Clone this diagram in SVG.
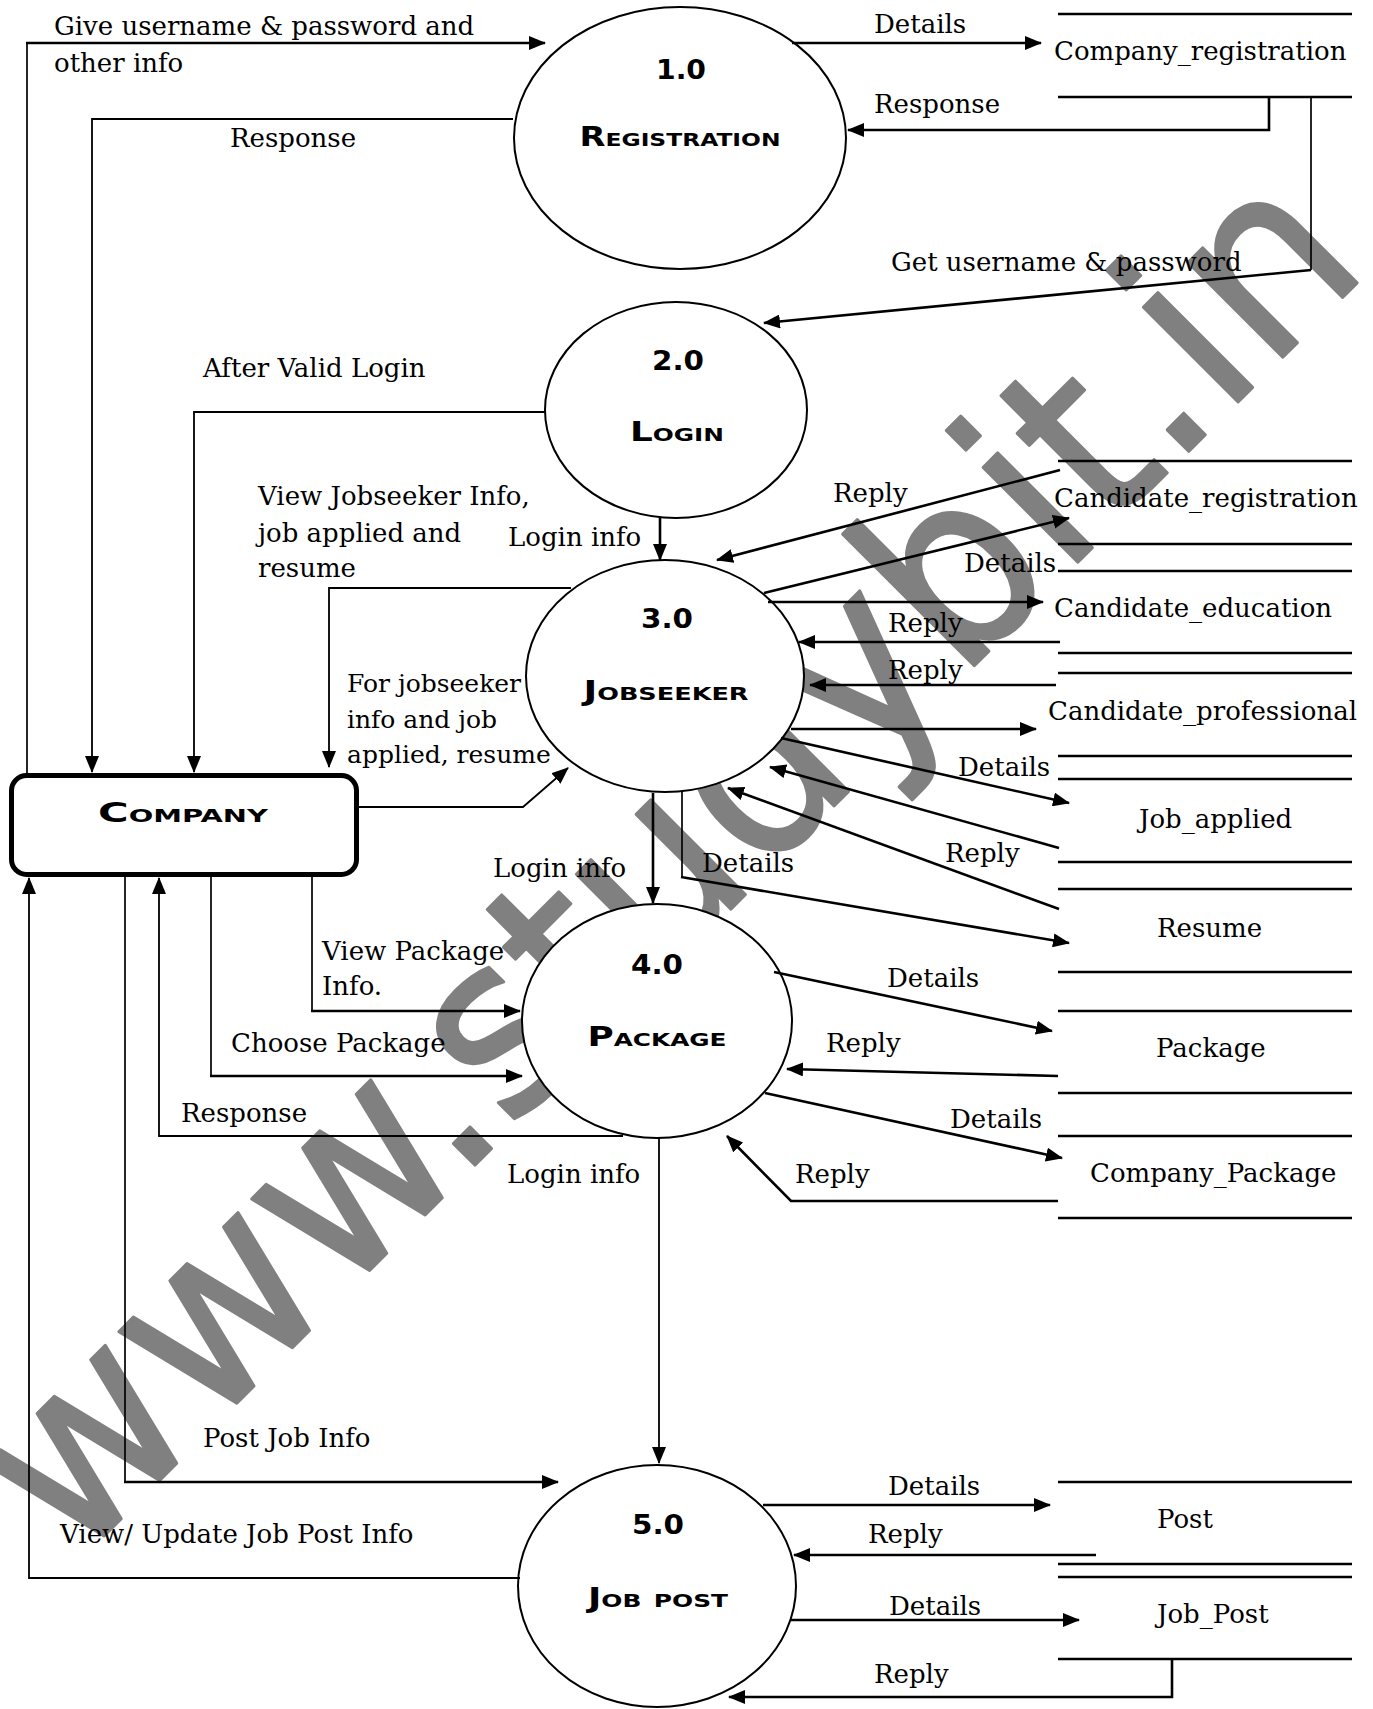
<svg xmlns="http://www.w3.org/2000/svg" width="1373" height="1709" viewBox="0 0 1373 1709">
<style>
.wm{font-family:"DejaVu Sans",sans-serif;font-size:245px;fill:#808080;stroke:#808080;stroke-width:3;stroke-linejoin:round}
.lbl{font-family:"DejaVu Serif",serif;font-size:26px;fill:#000}
.sm{font-size:25px}
.nt{font-family:"DejaVu Sans",sans-serif;font-weight:bold;font-variant:small-caps;font-size:26px;fill:#000;text-anchor:middle}
.proc{fill:#fff;stroke:#000;stroke-width:2}
.ent{fill:#fff;stroke:#000;stroke-width:5}
.c{fill:none;stroke:#000;stroke-width:1.7}
.ca{fill:none;stroke:#000;stroke-width:2.6;marker-end:url(#ah)}
.cat{fill:none;stroke:#000;stroke-width:1.8;marker-end:url(#ah)}
.st{stroke:#000;stroke-width:2.5}
</style>
<defs>
<marker id="ah" markerUnits="userSpaceOnUse" markerWidth="18" markerHeight="14" refX="16" refY="7" orient="auto"><path d="M0,0 L17,7 L0,14 z" fill="#000"/></marker>
</defs>
<rect width="1373" height="1709" fill="#fff"/>
<text class="wm" transform="translate(74,1566) rotate(-45)" textLength="1834" lengthAdjust="spacingAndGlyphs">www.studybit.in</text>

<g id="company"><rect class="ent" x="11.5" y="775.5" width="345" height="99" rx="15"/><text class="nt" x="183" y="822" textLength="170" lengthAdjust="spacingAndGlyphs">Company</text></g>
<g id="p1"><ellipse class="proc" cx="680" cy="138" rx="166" ry="131"/><text class="nt" x="681" y="79" textLength="50" lengthAdjust="spacingAndGlyphs">1.0</text><text class="nt" x="680" y="146" textLength="201" lengthAdjust="spacingAndGlyphs">Registration</text></g>
<g id="p2"><ellipse class="proc" cx="676" cy="410" rx="131" ry="108"/><text class="nt" x="678" y="370" textLength="52" lengthAdjust="spacingAndGlyphs">2.0</text><text class="nt" x="677" y="441" textLength="94" lengthAdjust="spacingAndGlyphs">Login</text></g>
<g id="p3"><ellipse class="proc" cx="665" cy="676" rx="139" ry="116"/><text class="nt" x="667" y="628" textLength="52" lengthAdjust="spacingAndGlyphs">3.0</text><text class="nt" x="666" y="700" textLength="165" lengthAdjust="spacingAndGlyphs">Jobseeker</text></g>
<g id="p4"><ellipse class="proc" cx="657" cy="1021" rx="135" ry="117"/><text class="nt" x="657" y="974" textLength="52" lengthAdjust="spacingAndGlyphs">4.0</text><text class="nt" x="657" y="1046" textLength="139" lengthAdjust="spacingAndGlyphs">Package</text></g>
<g id="p5"><ellipse class="proc" cx="657" cy="1586" rx="139" ry="121"/><text class="nt" x="658" y="1534" textLength="52" lengthAdjust="spacingAndGlyphs">5.0</text><text class="nt" x="658" y="1607" textLength="140" lengthAdjust="spacingAndGlyphs">Job post</text></g>

<g id="ds_company_registration"><line class="st" x1="1058" y1="14" x2="1352" y2="14"/><line class="st" x1="1058" y1="97" x2="1352" y2="97"/><text class="lbl" x="1054" y="60">Company_registration</text></g>
<g id="ds_candidate_registration"><line class="st" x1="1058" y1="461" x2="1352" y2="461"/><line class="st" x1="1058" y1="544" x2="1352" y2="544"/><text class="lbl" x="1054" y="507">Candidate_registration</text></g>
<g id="ds_candidate_education"><line class="st" x1="1058" y1="571" x2="1352" y2="571"/><line class="st" x1="1058" y1="653" x2="1352" y2="653"/><text class="lbl" x="1054" y="617">Candidate_education</text></g>
<g id="ds_candidate_professional"><line class="st" x1="1058" y1="673" x2="1352" y2="673"/><line class="st" x1="1058" y1="756" x2="1352" y2="756"/><text class="lbl" x="1048" y="720">Candidate_professional</text></g>
<g id="ds_job_applied"><line class="st" x1="1058" y1="779" x2="1352" y2="779"/><line class="st" x1="1058" y1="862" x2="1352" y2="862"/><text class="lbl" x="1139" y="828">Job_applied</text></g>
<g id="ds_resume"><line class="st" x1="1058" y1="889" x2="1352" y2="889"/><line class="st" x1="1058" y1="972" x2="1352" y2="972"/><text class="lbl" x="1157" y="937">Resume</text></g>
<g id="ds_package"><line class="st" x1="1058" y1="1011" x2="1352" y2="1011"/><line class="st" x1="1058" y1="1093" x2="1352" y2="1093"/><text class="lbl" x="1156" y="1057">Package</text></g>
<g id="ds_company_package"><line class="st" x1="1058" y1="1136" x2="1352" y2="1136"/><line class="st" x1="1058" y1="1218" x2="1352" y2="1218"/><text class="lbl" x="1090" y="1182">Company_Package</text></g>
<g id="ds_post"><line class="st" x1="1058" y1="1482" x2="1352" y2="1482"/><line class="st" x1="1058" y1="1564" x2="1352" y2="1564"/><text class="lbl" x="1157" y="1528">Post</text></g>
<g id="ds_job_post"><line class="st" x1="1058" y1="1577" x2="1352" y2="1577"/><line class="st" x1="1058" y1="1659" x2="1352" y2="1659"/><text class="lbl" x="1157" y="1623">Job_Post</text></g>

<g id="connectors">
<path class="c" d="M27,773 V43"/><path class="ca" d="M26,43 H545"/>
<path class="cat" d="M513,119 H92 V772"/>
<path class="ca" d="M792,43 H1041"/>
<path class="ca" d="M1269,97 V130 H848"/>
<path class="c" d="M1311,97 V270"/><path class="ca" d="M1311,270 L764,323"/>
<path class="cat" d="M545,412 H194 V772"/>
<path class="ca" d="M660,518 V560"/>
<path class="cat" d="M571,588 H329 V767"/>
<path class="cat" d="M359,807 H523 L568,768"/>
<path class="ca" d="M1060,470 L717,560"/>
<path class="ca" d="M764,593 L1069,518"/>
<path class="ca" d="M768,602 H1043"/>
<path class="ca" d="M1060,642 H799"/>
<path class="ca" d="M1056,685 H810"/>
<path class="ca" d="M791,729 H1036"/>
<path class="ca" d="M781,738 L1069,803"/>
<path class="ca" d="M1059,848 L770,767"/>
<path class="ca" d="M1059,909 L728,788"/>
<path class="ca" d="M653,793 V903"/>
<path class="c" d="M682,791 V877"/><path class="ca" d="M681,877 L1069,943"/>
<path class="c" d="M312,877 V1011"/><path class="ca" d="M311,1011 H520"/>
<path class="c" d="M211,877 V1076"/><path class="ca" d="M210,1076 H522"/>
<path class="cat" d="M623,1136 H159 V878"/>
<path class="ca" d="M774,972 L1052,1031"/>
<path class="ca" d="M1058,1076 L787,1069"/>
<path class="ca" d="M765,1093 L1062,1158"/>
<path class="ca" d="M1058,1201 H791 L727,1136"/>
<path class="cat" d="M659,1138 V1463"/>
<path class="c" d="M125,877 V1482"/><path class="ca" d="M124,1482 H558"/>
<path class="cat" d="M520,1578 H29 V878"/>
<path class="ca" d="M763,1505 H1050"/>
<path class="ca" d="M1096,1555 H794"/>
<path class="ca" d="M791,1620 H1079"/>
<path class="ca" d="M1172,1659 V1697 H729"/>
</g>

<g id="labels">
<text class="lbl" x="54" y="35">Give username &amp; password and</text>
<text class="lbl" x="54" y="72">other info</text>
<text class="lbl" x="230" y="147">Response</text>
<text class="lbl" x="874" y="33">Details</text>
<text class="lbl" x="874" y="113">Response</text>
<text class="lbl" x="891" y="271">Get username &amp; password</text>
<text class="lbl" x="203" y="377">After Valid Login</text>
<text class="lbl" x="258" y="505">View Jobseeker Info,</text>
<text class="lbl" x="258" y="542">job applied and</text>
<text class="lbl" x="258" y="577">resume</text>
<text class="lbl" x="508" y="546">Login info</text>
<text class="lbl" x="833" y="502">Reply</text>
<text class="lbl" x="964" y="572">Details</text>
<text class="lbl" x="888" y="632">Reply</text>
<text class="lbl" x="888" y="679">Reply</text>
<text class="lbl sm" x="347" y="692">For jobseeker</text>
<text class="lbl sm" x="347" y="728">info and job</text>
<text class="lbl sm" x="347" y="763">applied, resume</text>
<text class="lbl" x="958" y="776">Details</text>
<text class="lbl" x="945" y="862">Reply</text>
<text class="lbl" x="493" y="877">Login info</text>
<text class="lbl" x="702" y="872">Details</text>
<text class="lbl" x="322" y="960">View Package</text>
<text class="lbl" x="322" y="995">Info.</text>
<text class="lbl" x="887" y="987">Details</text>
<text class="lbl" x="231" y="1052">Choose Package</text>
<text class="lbl" x="826" y="1052">Reply</text>
<text class="lbl" x="181" y="1122">Response</text>
<text class="lbl" x="950" y="1128">Details</text>
<text class="lbl" x="507" y="1183">Login info</text>
<text class="lbl" x="795" y="1183">Reply</text>
<text class="lbl" x="203" y="1447">Post Job Info</text>
<text class="lbl" x="888" y="1495">Details</text>
<text class="lbl" x="60" y="1543">View/ Update Job Post Info</text>
<text class="lbl" x="868" y="1543">Reply</text>
<text class="lbl" x="889" y="1615">Details</text>
<text class="lbl" x="874" y="1683">Reply</text>
</g>
</svg>
